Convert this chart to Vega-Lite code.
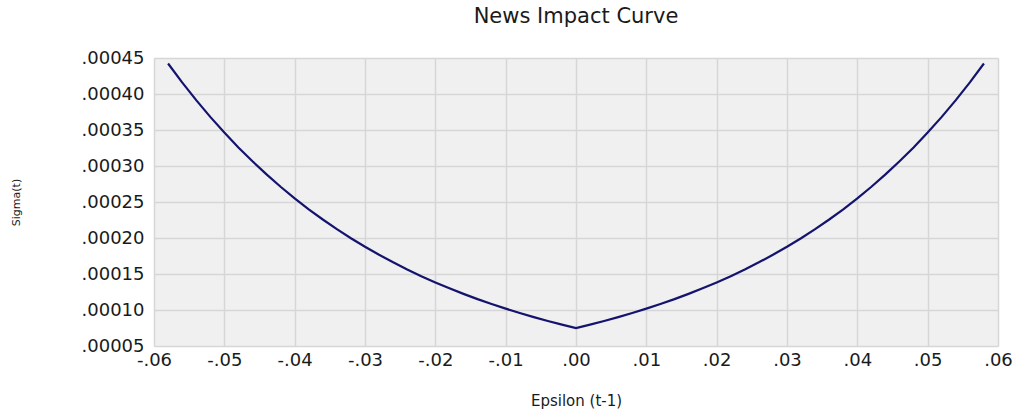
{
  "$schema": "https://vega.github.io/schema/vega-lite/v6.json",
  "width": 844,
  "height": 288,
  "autosize": "none",
  "padding": {"left": 154, "top": 58, "right": 15, "bottom": 65},
  "background": "white",
  "title": {
    "text": "News Impact Curve",
    "font": "DejaVu Sans",
    "fontSize": 21,
    "fontWeight": "normal",
    "color": "#1a1a1a",
    "anchor": "middle",
    "offset": 22
  },
  "config": {
    "view": {"fill": "#f0f0f0", "stroke": null},
    "axis": {
      "labelFont": "DejaVu Sans",
      "titleFont": "DejaVu Sans",
      "labelColor": "#1a1a1a",
      "titleColor": "#1a1a1a",
      "titleFontWeight": "normal",
      "gridColor": "#d6d6d6",
      "gridWidth": 1.5,
      "domain": false,
      "ticks": false
    }
  },
  "data": {
    "values": [
      {"eps": -0.058, "sigma": 0.0004424},
      {"eps": -0.056, "sigma": 0.0004162},
      {"eps": -0.054, "sigma": 0.0003915},
      {"eps": -0.052, "sigma": 0.0003682},
      {"eps": -0.050, "sigma": 0.0003464},
      {"eps": -0.048, "sigma": 0.0003258},
      {"eps": -0.046, "sigma": 0.0003065},
      {"eps": -0.044, "sigma": 0.0002883},
      {"eps": -0.042, "sigma": 0.0002712},
      {"eps": -0.040, "sigma": 0.0002551},
      {"eps": -0.038, "sigma": 0.0002399},
      {"eps": -0.036, "sigma": 0.0002257},
      {"eps": -0.034, "sigma": 0.0002123},
      {"eps": -0.032, "sigma": 0.0001997},
      {"eps": -0.030, "sigma": 0.0001878},
      {"eps": -0.028, "sigma": 0.0001767},
      {"eps": -0.026, "sigma": 0.0001662},
      {"eps": -0.024, "sigma": 0.0001563},
      {"eps": -0.022, "sigma": 0.0001470},
      {"eps": -0.020, "sigma": 0.0001383},
      {"eps": -0.018, "sigma": 0.0001301},
      {"eps": -0.016, "sigma": 0.0001224},
      {"eps": -0.014, "sigma": 0.0001151},
      {"eps": -0.012, "sigma": 0.0001083},
      {"eps": -0.010, "sigma": 0.0001019},
      {"eps": -0.008, "sigma": 0.0000958},
      {"eps": -0.006, "sigma": 0.0000901},
      {"eps": -0.004, "sigma": 0.0000848},
      {"eps": -0.002, "sigma": 0.0000797},
      {"eps": 0.000, "sigma": 0.0000750},
      {"eps": 0.002, "sigma": 0.0000797},
      {"eps": 0.004, "sigma": 0.0000848},
      {"eps": 0.006, "sigma": 0.0000901},
      {"eps": 0.008, "sigma": 0.0000958},
      {"eps": 0.010, "sigma": 0.0001019},
      {"eps": 0.012, "sigma": 0.0001083},
      {"eps": 0.014, "sigma": 0.0001151},
      {"eps": 0.016, "sigma": 0.0001224},
      {"eps": 0.018, "sigma": 0.0001301},
      {"eps": 0.020, "sigma": 0.0001383},
      {"eps": 0.022, "sigma": 0.0001470},
      {"eps": 0.024, "sigma": 0.0001563},
      {"eps": 0.026, "sigma": 0.0001662},
      {"eps": 0.028, "sigma": 0.0001767},
      {"eps": 0.030, "sigma": 0.0001878},
      {"eps": 0.032, "sigma": 0.0001997},
      {"eps": 0.034, "sigma": 0.0002123},
      {"eps": 0.036, "sigma": 0.0002257},
      {"eps": 0.038, "sigma": 0.0002399},
      {"eps": 0.040, "sigma": 0.0002551},
      {"eps": 0.042, "sigma": 0.0002712},
      {"eps": 0.044, "sigma": 0.0002883},
      {"eps": 0.046, "sigma": 0.0003065},
      {"eps": 0.048, "sigma": 0.0003258},
      {"eps": 0.050, "sigma": 0.0003464},
      {"eps": 0.052, "sigma": 0.0003682},
      {"eps": 0.054, "sigma": 0.0003915},
      {"eps": 0.056, "sigma": 0.0004162},
      {"eps": 0.058, "sigma": 0.0004424}
    ]
  },
  "mark": {"type": "line", "color": "#14146e", "strokeWidth": 2.2},
  "encoding": {
    "x": {
      "field": "eps",
      "type": "quantitative",
      "scale": {"domain": [-0.06, 0.06], "nice": false, "zero": false},
      "axis": {
        "title": "Epsilon (t-1)",
        "titleFontSize": 15,
        "titlePadding": 24,
        "values": [-0.06, -0.05, -0.04, -0.03, -0.02, -0.01, 0, 0.01, 0.02, 0.03, 0.04, 0.05, 0.06],
        "labelExpr": "replace(replace(format(datum.value, '.2f'), '\u2212', '-'), '0.', '.')",
        "labelFontSize": 18,
        "labelPadding": 5,
        "labelFlush": false
      }
    },
    "y": {
      "field": "sigma",
      "type": "quantitative",
      "scale": {"domain": [0.00005, 0.00045], "nice": false, "zero": false},
      "axis": {
        "title": "Sigma(t)",
        "titleFontSize": 11,
        "titlePadding": 60,
        "values": [0.00005, 0.0001, 0.00015, 0.0002, 0.00025, 0.0003, 0.00035, 0.0004, 0.00045],
        "labelExpr": "replace(format(datum.value, '.5f'), '0.', '.')",
        "labelFontSize": 18,
        "labelPadding": 10,
        "labelFlush": false
      }
    }
  }
}
